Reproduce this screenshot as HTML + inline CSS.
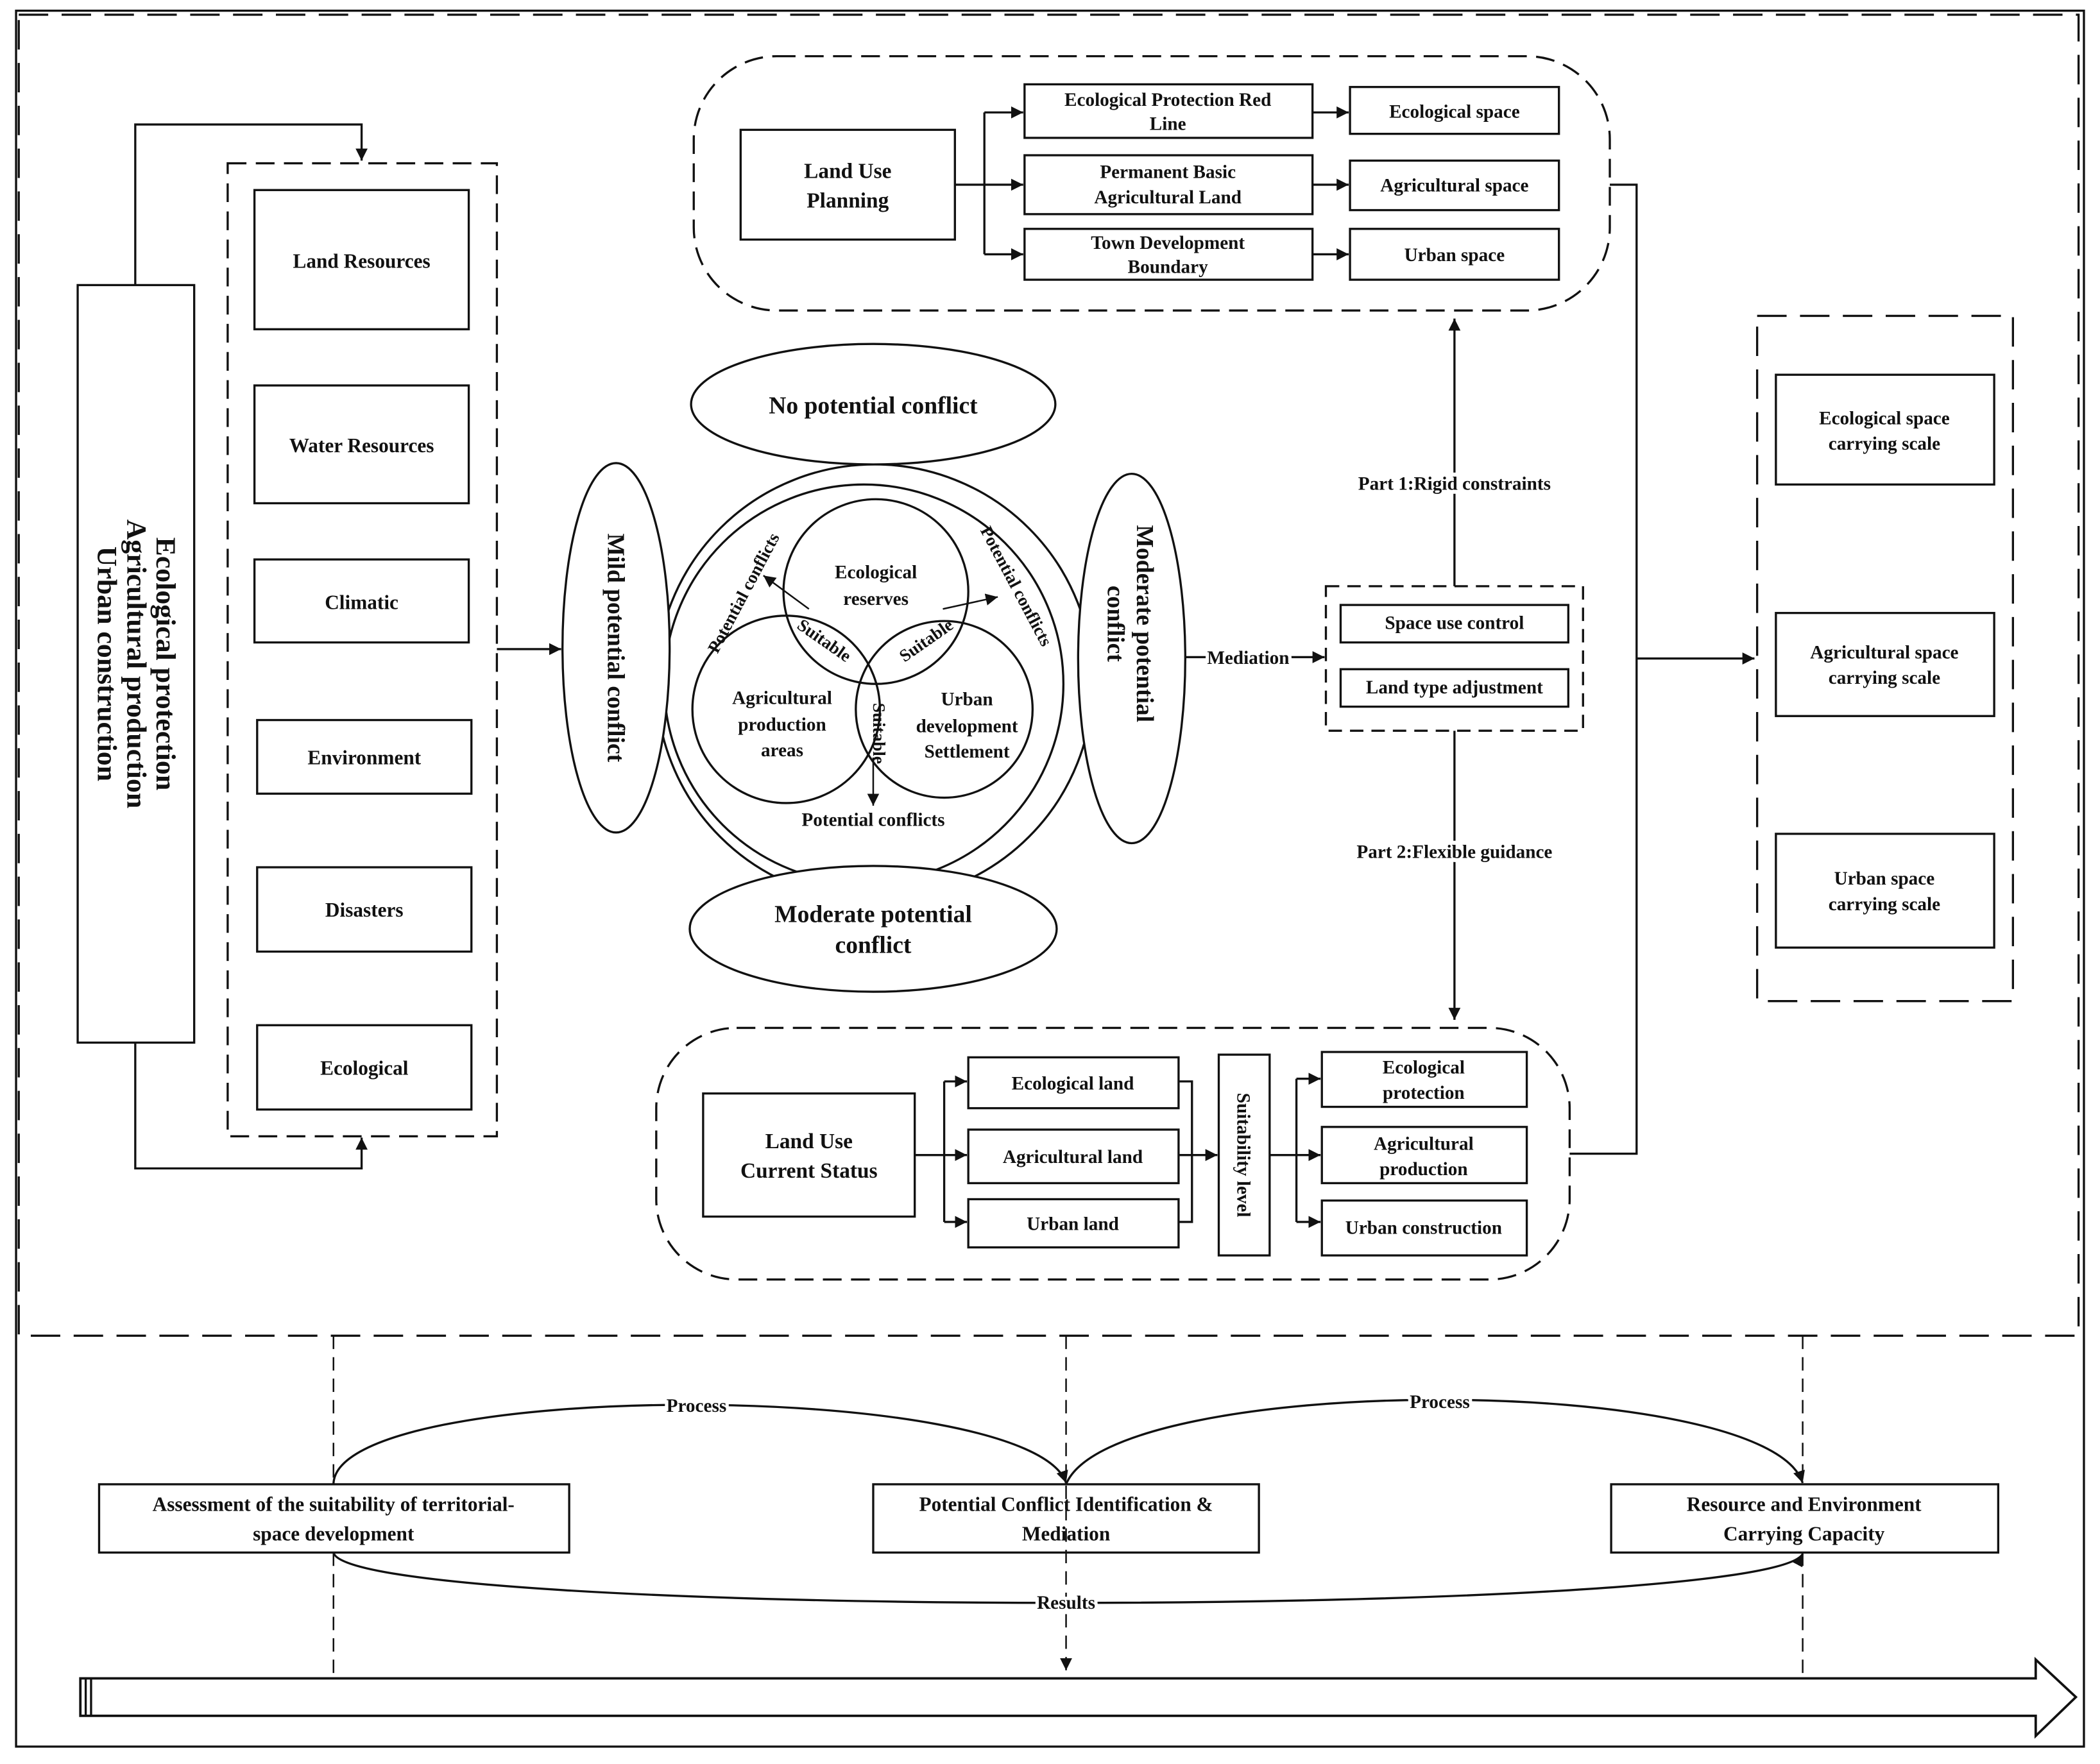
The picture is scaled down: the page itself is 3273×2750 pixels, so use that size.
<!DOCTYPE html>
<html><head><meta charset="utf-8"><style>
html,body{margin:0;padding:0;background:#fff;}
svg{display:block;}
text{font-family:"Liberation Serif",serif;font-weight:bold;fill:#111;}
</style></head><body>
<svg width="3273" height="2750" viewBox="0 0 1568 1318" preserveAspectRatio="none" xmlns="http://www.w3.org/2000/svg">
<defs>
<marker id="a" viewBox="0 0 10 10" refX="10" refY="5" markerWidth="9" markerHeight="9" markerUnits="userSpaceOnUse" orient="auto"><path d="M0,0L10,5L0,10z" fill="#111"/></marker>
</defs>
<g fill="none" stroke="#111" stroke-width="1.6">
<rect x="12" y="8" width="1544" height="1297"/>
<rect x="14" y="11" width="1538" height="987" stroke-dasharray="22,10"/>
<rect x="58" y="213" width="87" height="566" fill="#fff"/>
<path d="M101,213V93H270V120" marker-end="url(#a)"/>
<path d="M101,779V873H270V850" marker-end="url(#a)"/>
<rect x="170" y="122" width="201" height="727" stroke-dasharray="14,7"/>
<rect x="190" y="142" width="160" height="104"/>
<rect x="190" y="288" width="160" height="88"/>
<rect x="190" y="418" width="160" height="62"/>
<rect x="192" y="538" width="160" height="55"/>
<rect x="192" y="648" width="160" height="63"/>
<rect x="192" y="766" width="160" height="63"/>
<path d="M371,485H419" marker-end="url(#a)"/>
<circle cx="653" cy="510" r="163"/>
<circle cx="645" cy="511" r="149"/>
<circle cx="654" cy="442" r="69"/>
<circle cx="587" cy="530" r="70"/>
<circle cx="705" cy="530" r="66"/>
<ellipse cx="652" cy="302" rx="136" ry="45" fill="#fff"/>
<ellipse cx="652" cy="694" rx="137" ry="47" fill="#fff"/>
<ellipse cx="460" cy="484" rx="40" ry="138" fill="#fff"/>
<ellipse cx="845" cy="492" rx="40" ry="138" fill="#fff"/>
<path d="M604,455L570,430" marker-end="url(#a)" stroke-width="1.2"/>
<path d="M704,455L745,446" marker-end="url(#a)" stroke-width="1.2"/>
<path d="M652,566V602" marker-end="url(#a)" stroke-width="1.2"/>
<path d="M885,491H989" marker-end="url(#a)"/>
<rect x="990" y="438" width="192" height="108" stroke-dasharray="10,6"/>
<rect x="1001" y="452" width="170" height="28"/>
<rect x="1001" y="500" width="170" height="28"/>
<path d="M1086,438V238" marker-end="url(#a)"/>
<path d="M1086,546V762" marker-end="url(#a)"/>
<rect x="518" y="42" width="684" height="190" rx="62" stroke-dasharray="14,7"/>
<rect x="553" y="97" width="160" height="82"/>
<path d="M713,138H735M735,84V190"/>
<path d="M735,84H764" marker-end="url(#a)"/>
<path d="M735,138H764" marker-end="url(#a)"/>
<path d="M735,190H764" marker-end="url(#a)"/>
<rect x="765" y="63" width="215" height="40"/>
<rect x="765" y="116" width="215" height="44"/>
<rect x="765" y="171" width="215" height="38"/>
<path d="M980,84H1007" marker-end="url(#a)"/>
<path d="M980,138H1007" marker-end="url(#a)"/>
<path d="M980,190H1007" marker-end="url(#a)"/>
<rect x="1008" y="65" width="156" height="35"/>
<rect x="1008" y="120" width="156" height="37"/>
<rect x="1008" y="171" width="156" height="38"/>
<path d="M1202,138H1222V862H1172"/>
<path d="M1222,492H1310" marker-end="url(#a)"/>
<rect x="1312" y="236" width="191" height="512" stroke-dasharray="22,10"/>
<rect x="1326" y="280" width="163" height="82"/>
<rect x="1326" y="458" width="163" height="77"/>
<rect x="1326" y="623" width="163" height="85"/>
<rect x="490" y="768" width="682" height="188" rx="60" stroke-dasharray="14,7"/>
<rect x="525" y="817" width="158" height="92"/>
<path d="M683,863H705M705,808V913"/>
<path d="M705,808H722" marker-end="url(#a)"/>
<path d="M705,863H722" marker-end="url(#a)"/>
<path d="M705,913H722" marker-end="url(#a)"/>
<rect x="723" y="790" width="157" height="38"/>
<rect x="723" y="844" width="157" height="40"/>
<rect x="723" y="896" width="157" height="36"/>
<path d="M880,808H890V913H880M880,863H890"/>
<path d="M890,863H909" marker-end="url(#a)"/>
<rect x="910" y="788" width="38" height="150"/>
<path d="M948,863H968M968,806V913"/>
<path d="M968,806H986" marker-end="url(#a)"/>
<path d="M968,863H986" marker-end="url(#a)"/>
<path d="M968,913H986" marker-end="url(#a)"/>
<rect x="987" y="786" width="153" height="41"/>
<rect x="987" y="842" width="153" height="42"/>
<rect x="987" y="897" width="153" height="41"/>
<path d="M249,998V1109M249,1160V1250M1346,998V1109M1346,1160V1250" stroke-dasharray="10,6" stroke-width="1.2"/>
<path d="M796,998V1248" stroke-dasharray="10,6" stroke-width="1.2" marker-end="url(#a)"/>
<rect x="74" y="1109" width="351" height="51"/>
<rect x="652" y="1109" width="288" height="51"/>
<rect x="1203" y="1109" width="289" height="51"/>
<path d="M249,1109C250,1030 770,1030 796,1108" marker-end="url(#a)"/>
<path d="M796,1109C830,1025 1320,1025 1346,1108" marker-end="url(#a)"/>
<path d="M249,1160C260,1210 1320,1210 1346,1161" marker-end="url(#a)"/>
<path d="M60,1254H1520V1240L1550,1268L1520,1297V1282H60Z" stroke-width="1.8"/>
<path d="M64,1254V1282M68,1254V1282"/>
</g>
<g font-size="15" text-anchor="middle">
<g transform="translate(101,496) rotate(90)" font-size="21">
<text x="0" y="-16">Ecological protection</text>
<text x="0" y="6">Agricultural production</text>
<text x="0" y="28">Urban construction</text>
</g>
<text x="270" y="200">Land Resources</text>
<text x="270" y="338">Water Resources</text>
<text x="270" y="455">Climatic</text>
<text x="272" y="571">Environment</text>
<text x="272" y="685">Disasters</text>
<text x="272" y="803">Ecological</text>
<text x="652" y="309" font-size="18">No potential conflict</text>
<text x="652" y="689" font-size="18">Moderate potential</text>
<text x="652" y="712" font-size="18">conflict</text>
<text transform="translate(460,484) rotate(90)" x="0" y="6" font-size="18">Mild potential conflict</text>
<g transform="translate(845,466) rotate(90)" font-size="18"><text x="0" y="-4">Moderate potential</text><text x="0" y="18">conflict</text></g>
<text x="654" y="432" font-size="14">Ecological</text>
<text x="654" y="452" font-size="14">reserves</text>
<text x="584" y="526" font-size="14">Agricultural</text>
<text x="584" y="546" font-size="14">production</text>
<text x="584" y="565" font-size="14">areas</text>
<text x="722" y="527" font-size="14">Urban</text>
<text x="722" y="547" font-size="14">development</text>
<text x="722" y="566" font-size="14">Settlement</text>
<text transform="translate(613,482) rotate(35)" font-size="13">Suitable</text>
<text transform="translate(694,482) rotate(-35)" font-size="13">Suitable</text>
<text transform="translate(652,548) rotate(90)" font-size="13">Suitable</text>
<text transform="translate(559,445) rotate(-62)" font-size="13">Potential conflicts</text>
<text transform="translate(755,440) rotate(62)" font-size="13">Potential conflicts</text>
<text x="652" y="617" font-size="14">Potential conflicts</text>
<text x="932" y="496" font-size="14" style="paint-order:stroke" stroke="#fff" stroke-width="5">Mediation</text>
<text x="1086" y="470" font-size="14">Space use control</text>
<text x="1086" y="518" font-size="14">Land type adjustment</text>
<text x="1086" y="366" font-size="14" style="paint-order:stroke" stroke="#fff" stroke-width="6">Part 1:Rigid constraints</text>
<text x="1086" y="641" font-size="14" style="paint-order:stroke" stroke="#fff" stroke-width="6">Part 2:Flexible guidance</text>
<text x="633" y="133" font-size="16">Land Use</text>
<text x="633" y="155" font-size="16">Planning</text>
<text x="872" y="79" font-size="14">Ecological Protection Red</text>
<text x="872" y="97" font-size="14">Line</text>
<text x="872" y="133" font-size="14">Permanent Basic</text>
<text x="872" y="152" font-size="14">Agricultural Land</text>
<text x="872" y="186" font-size="14">Town Development</text>
<text x="872" y="204" font-size="14">Boundary</text>
<text x="1086" y="88" font-size="14">Ecological space</text>
<text x="1086" y="143" font-size="14">Agricultural space</text>
<text x="1086" y="195" font-size="14">Urban space</text>
<text x="1407" y="317" font-size="14">Ecological space</text>
<text x="1407" y="336" font-size="14">carrying scale</text>
<text x="1407" y="492" font-size="14">Agricultural space</text>
<text x="1407" y="511" font-size="14">carrying scale</text>
<text x="1407" y="661" font-size="14">Urban space</text>
<text x="1407" y="680" font-size="14">carrying scale</text>
<text x="604" y="858" font-size="16">Land Use</text>
<text x="604" y="880" font-size="16">Current Status</text>
<text x="801" y="814" font-size="14">Ecological land</text>
<text x="801" y="869" font-size="14">Agricultural land</text>
<text x="801" y="919" font-size="14">Urban land</text>
<text transform="translate(929,863) rotate(90)" x="0" y="5" font-size="14">Suitability level</text>
<text x="1063" y="802" font-size="14">Ecological</text>
<text x="1063" y="821" font-size="14">protection</text>
<text x="1063" y="859" font-size="14">Agricultural</text>
<text x="1063" y="878" font-size="14">production</text>
<text x="1063" y="922" font-size="14">Urban construction</text>
<text x="249" y="1129">Assessment of the suitability of territorial-</text>
<text x="249" y="1151">space development</text>
<text x="796" y="1129">Potential Conflict Identification &amp;</text>
<text x="796" y="1151">Mediation</text>
<text x="1347" y="1129">Resource and Environment</text>
<text x="1347" y="1151">Carrying Capacity</text>
<text x="520" y="1055" font-size="14" style="paint-order:stroke" stroke="#fff" stroke-width="5">Process</text>
<text x="1075" y="1052" font-size="14" style="paint-order:stroke" stroke="#fff" stroke-width="5">Process</text>
<text x="796" y="1202" font-size="14" style="paint-order:stroke" stroke="#fff" stroke-width="5">Results</text>
</g>
</svg>
</body></html>
